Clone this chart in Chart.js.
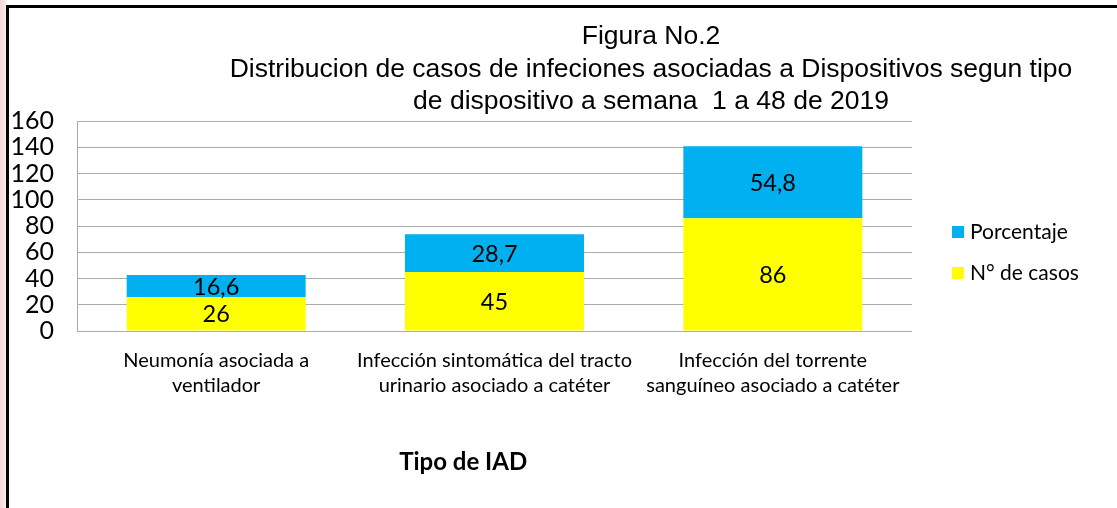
<!DOCTYPE html>
<html><head><meta charset="utf-8">
<script src="https://cdn.jsdelivr.net/npm/chart.js@4.4.1/dist/chart.umd.min.js"></script>
<style>
html,body{margin:0;padding:0;background:#fff;overflow:hidden}
#wrap{position:relative;width:1117px;height:508px;background:linear-gradient(90deg,#f6d6d6 0px,#fbeaea 6px,#fff 7px)}
#frame{position:absolute;left:6px;top:5px;width:1130px;height:520px;border:3px solid #000;background:#fff;box-sizing:border-box}
canvas{position:absolute;left:0;top:0}
</style></head><body>
<div id="wrap"><div id="frame"></div><canvas id="c" width="1117" height="508"></canvas></div>
<script>
const categories = [
  ["Neumonía asociada a", "ventilador"],
  ["Infección sintomática del tracto", "urinario asociado a catéter"],
  ["Infección del torrente", "sanguíneo asociado a catéter"]
];
const casos = [26, 45, 86];
const porcentaje = [16.6, 28.7, 54.8];
const seriesNames = ["N° de casos", "Porcentaje"];
const seriesColors = ["#FFFF00", "#00B0F0"];
const titleLines = ["Figura No.2", "Distribucion de casos de infeciones asociadas a Dispositivos segun tipo", "de dispositivo a semana  1 a 48 de 2019"];
const xAxisTitle = "Tipo de IAD";
const yMin = 0, yMax = 160, yStep = 20;

const TXT = "Lato, 'Open Sans', sans-serif";

const decor = {
  id: 'decor',
  afterDatasetsDraw(chart) {
    const ctx = chart.ctx;
    const ca = chart.chartArea;
    ctx.save();
    // value labels
    ctx.fillStyle = '#000';
    ctx.font = "23.5px " + TXT;
    ctx.textAlign = 'center';
    ctx.textBaseline = 'middle';
    chart.data.datasets.forEach((ds, di) => {
      const meta = chart.getDatasetMeta(di);
      meta.data.forEach((el, i) => {
        const v = ds.data[i];
        const cy = (el.y + el.base) / 2;
        ctx.fillText(String(v).replace('.', ','), el.x, cy + 1);
      });
    });
    // title
    ctx.font = "26.5px 'Liberation Sans', Arial, sans-serif";
    const tx = 651;
    const tys = [37, 70, 102];
    titleLines.forEach((t, i) => ctx.fillText(t, tx, tys[i]));
    // axis title
    ctx.font = "bold 24px " + TXT;
    ctx.fillText(xAxisTitle, ca.left + (ca.right - ca.left) * 0.4625, 462);
    // legend
    ctx.textAlign = 'left';
    ctx.font = "21px " + TXT;
    const items = [[seriesNames[1], seriesColors[1], 232], [seriesNames[0], seriesColors[0], 273]];
    items.forEach(([name, col, y]) => {
      ctx.fillStyle = col;
      ctx.fillRect(952, y - 6, 12, 12);
      ctx.fillStyle = '#000';
      ctx.fillText(name, 970, y);
    });
    ctx.restore();
  }
};

new Chart(document.getElementById('c'), {
  type: 'bar',
  data: {
    labels: categories,
    datasets: [
      { label: seriesNames[0], data: casos, backgroundColor: seriesColors[0], borderWidth: 0 },
      { label: seriesNames[1], data: porcentaje, backgroundColor: seriesColors[1], borderWidth: 0 }
    ]
  },
  options: {
    responsive: false,
    devicePixelRatio: 1,
    animation: false,
    layout: { padding: { left: 10, right: 205, top: 121, bottom: 0 } },
    plugins: { legend: { display: false }, title: { display: false }, tooltip: { enabled: false } },
    datasets: { bar: { categoryPercentage: 1, barPercentage: 0.643 } },
    scales: {
      x: {
        stacked: true,
        grid: { display: false },
        border: { display: false },
        ticks: { color: '#000', font: { family: TXT, size: 20, lineHeight: 1.25 }, padding: 9, maxRotation: 0, autoSkip: false },
        afterFit(s) { s.height = 177; }
      },
      y: {
        stacked: true,
        min: yMin, max: yMax,
        grid: { color: '#ABABAB', lineWidth: 1, drawTicks: false },
        border: { display: true, color: '#ABABAB', width: 1 },
        ticks: { stepSize: yStep, color: '#000', font: { family: TXT, size: 25 }, padding: 23, autoSkip: false },
        afterFit(s) { s.width = 67; }
      }
    }
  },
  plugins: [decor]
});
</script>
</body></html>
